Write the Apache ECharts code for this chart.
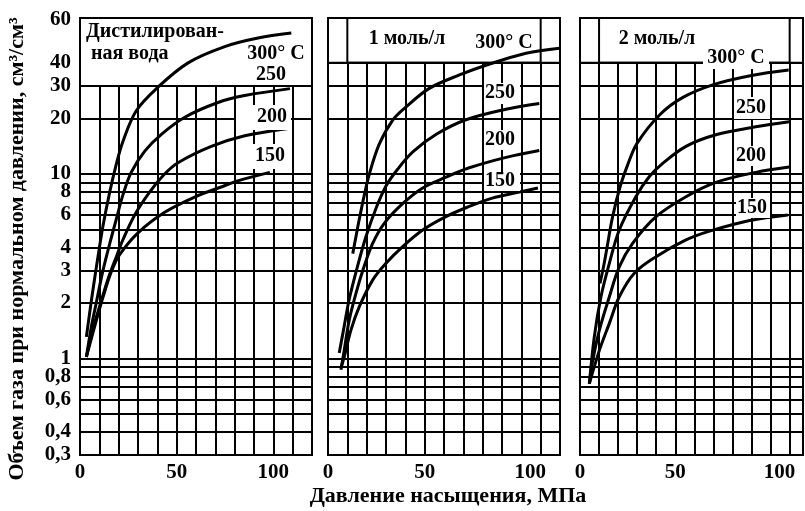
<!DOCTYPE html>
<html><head><meta charset="utf-8">
<script src="https://cdn.jsdelivr.net/npm/echarts@6/dist/echarts.min.js"></script>
<style>html,body{margin:0;padding:0;background:#fff}#c{width:805px;height:511px}</style>
</head><body><div id="c"></div>
<script>
// ---- tick labels / grid values ----
const yTickLabelValues = [0.3, 0.4, 0.6, 0.8, 1, 2, 3, 4, 6, 8, 10, 20, 30, 40, 60];
const yGridValues = [0.4, 0.5, 0.6, 0.7, 0.8, 0.9, 1, 2, 3, 4, 5, 6, 7, 8, 9, 10, 20, 30, 40];
const xTickLabelValues = [0, 50, 100];
const temps = ['300', '250', '200', '150'];
const panelTitles = [['Дистилирован-', 'ная вода'], ['1 моль/л'], ['2 моль/л']];
const yTitle = 'Объем газа при нормальном давлении, см³/см³';
const xTitle = 'Давление насыщения, МПа';

// ---- panel 1: distilled water [pressure MPa, gas volume] ----
const water300 = [[3.3,1.31],[6,2.1],[9,3.4],[12,5.3],[15.4,8.0],[18.5,11],[22.2,15],[29.1,22],[39.5,29],[55.9,40],[74.9,49],[92.1,54.5],[109.3,58]];
const water250 = [[3.3,1.02],[5.9,1.49],[8.4,2.0],[11.9,3.0],[15.4,4.2],[18.8,5.7],[22.2,7.7],[26.5,10.2],[33.5,13.3],[42.1,16.4],[54.2,20.3],[71.4,24.4],[85.2,26.6],[108.6,29]];
const water200 = [[3.3,1.02],[6.7,1.45],[11,2.05],[14.5,2.7],[18.8,3.56],[22.2,4.4],[28.3,6.0],[36.1,8.0],[43.4,9.9],[50.7,11.5],[67.9,14.1],[85.2,16.1],[108.5,17.7]];
const water150 = [[3.3,1.02],[8.4,1.6],[11.9,2.15],[16.2,2.95],[20.5,3.65],[30,4.8],[43.8,6.2],[59.3,7.5],[73,8.5],[82,9.2],[98.2,10.2]];

// ---- panel 2: 1 mol/l ----
const m1_300 = [[12.8,3.7],[14.5,4.6],[16.2,5.7],[18.8,7.7],[21.4,10.0],[26.5,14.5],[33.5,19.6],[40.4,23.1],[52.4,29.1],[68,34.4],[81.7,38.8],[102.4,45.1],[119.7,48]];
const m1_250 = [[5.8,1.07],[8.4,1.5],[11,2.1],[15.4,3.2],[19.7,4.6],[24.8,6.5],[30,8.6],[36,10.6],[44,13.2],[56,16.4],[71,19.6],[92,22.4],[109.3,24.1]];
const m1_200 = [[6.7,0.87],[8.4,1.11],[11,1.62],[14.5,2.26],[18,3.0],[23.1,4.2],[29.1,5.4],[38.6,6.9],[49,8.4],[61,9.6],[73.1,10.8],[92.1,12.3],[109.3,13.4]];
const m1_150 = [[6.7,0.89],[8.4,1.02],[11.9,1.43],[16.2,1.91],[23.1,2.66],[30,3.28],[38.6,4.04],[49,4.97],[61,5.87],[72,6.6],[85,7.4],[97,7.9],[108.6,8.4]];

// ---- panel 3: 2 mol/l ----
const m2_300 = [[10.5,2.55],[12.5,3.2],[14,3.9],[17,5.8],[21,8.5],[25,11.2],[30,14.7],[42,21],[54,26],[70,30.5],[90,34.2],[109.5,36.6]];
const m2_250 = [[4.9,0.73],[7.5,1.31],[11,2.16],[15.4,3.28],[20.6,4.97],[29.3,7.53],[36.3,9.66],[43.4,11.4],[55.6,14.1],[71.3,16.3],[92.2,18.0],[109.7,19.2]];
const m2_200 = [[4.9,0.73],[6.7,0.98],[10.2,1.43],[15.4,2.16],[20.6,3.14],[27.6,4.21],[39.9,5.87],[55.6,7.53],[71.3,9.0],[92.2,10.2],[109.7,10.9]];
const m2_150 = [[4.9,0.73],[10.2,1.11],[15.4,1.55],[20.6,2.16],[28.5,2.9],[39.9,3.56],[55.6,4.39],[68,4.9],[89,5.6],[109,6.0]];

const panelData = [
  {'300': water300, '250': water250, '200': water200, '150': water150},
  {'300': m1_300, '250': m1_250, '200': m1_200, '150': m1_150},
  {'300': m2_300, '250': m2_250, '200': m2_200, '150': m2_150}
];

// ---- layout ----
const FONT = '"Liberation Serif", "Times New Roman", serif';
const gridsLayout = [
  {left: 80, top: 18, width: 232, height: 437, xMax: 120},
  {left: 328, top: 18, width: 232, height: 437, xMax: 120},
  {left: 580, top: 18, width: 223, height: 437, xMax: 117}
];
const boxes = [
  [[{xAxis: 0, yAxis: 30}, {xAxis: 120, yAxis: 70}]],
  [[{xAxis: 0, yAxis: 40}, {xAxis: 120, yAxis: 70}],
   [{xAxis: 10, yAxis: 40, itemStyle: {color: 'rgba(0,0,0,0)'}}, {xAxis: 110, yAxis: 70}]],
  [[{xAxis: 0, yAxis: 40}, {xAxis: 117, yAxis: 70}],
   [{xAxis: 10, yAxis: 40, itemStyle: {color: 'rgba(0,0,0,0)'}}, {xAxis: 110, yAxis: 70}]]
];

const gridLine = {show: true, lineStyle: {color: '#000', width: 2}};
const grid = [], xAxis = [], yAxis = [], series = [];
gridsLayout.forEach((g, i) => {
  grid.push({left: g.left, top: g.top, width: g.width, height: g.height, show: true,
    borderColor: '#000', borderWidth: 2, backgroundColor: 'transparent'});
  xAxis.push({type: 'value', gridIndex: i, min: 0, max: g.xMax, interval: 10,
    axisLine: {show: false}, axisTick: {show: false}, splitLine: gridLine,
    axisLabel: {customValues: xTickLabelValues, color: '#000', fontFamily: FONT, fontWeight: 'bold',
      fontSize: 21, margin: 7,
      formatter: v => (i > 0 && v === 100) ? '{s|100}' : String(v),
      rich: {s: {padding: [0, 0, 0, 18], color: '#000', fontFamily: FONT, fontWeight: 'bold', fontSize: 21}}}});
  yAxis.push({type: 'log', logBase: 10, gridIndex: i, min: 0.3, max: 70,
    axisLine: {show: false}, axisTick: {show: false, customValues: yGridValues}, splitLine: gridLine,
    axisLabel: {show: i === 0, customValues: yTickLabelValues, color: '#000', fontFamily: FONT,
      fontWeight: 'bold', fontSize: 21, margin: 9,
      formatter: v => v === 60 ? '60\n ' : String(v).replace('.', ',')}});
  series.push({type: 'line', xAxisIndex: i, yAxisIndex: i, data: [], z: 2, silent: true,
    markArea: {silent: true, label: {show: false},
      itemStyle: {color: '#fff', borderColor: '#000', borderWidth: 2}, data: boxes[i]}});
  temps.forEach(t => series.push({type: 'line', name: t, xAxisIndex: i, yAxisIndex: i,
    data: panelData[i][t], smooth: 0.35, showSymbol: false, symbol: 'none', z: 4, silent: true,
    lineStyle: {color: '#000', width: 3}}));
});

// ---- annotation text ----
const graphic = [];
function txt(s, x, y, size, align) {
  graphic.push({type: 'text', x: x, y: y, z: 10, silent: true,
    style: {text: s, fill: '#000', font: 'bold ' + size + 'px ' + FONT,
      textAlign: align || 'center', textVerticalAlign: 'middle'}});
}
function wrect(x, y, w, h) {
  graphic.push({type: 'rect', z: 6, silent: true, shape: {x: x, y: y, width: w, height: h},
    style: {fill: '#fff'}});
}
// panel 1
txt(panelTitles[0][0], 86, 32, 20, 'left');
txt(panelTitles[0][1], 91, 54, 20, 'left');
txt('300° C', 276, 54, 20);
txt(temps[1], 271, 75, 20);
wrect(236, 105, 55, 25); txt(temps[2], 272, 117, 20);
wrect(236, 144, 55, 25); txt(temps[3], 270, 156, 20);
// panel 2
txt(panelTitles[1][0], 407, 39, 20);
txt('300° C', 504, 43, 20);
wrect(484, 83, 36, 21); txt(temps[1], 500, 93, 20);
wrect(484, 130, 36, 20); txt(temps[2], 500, 140, 20);
wrect(484, 172, 36, 19); txt(temps[3], 500, 181, 20);
// panel 3
txt(panelTitles[2][0], 657, 39, 20);
wrect(703, 47, 66, 22); txt('300° C', 736, 58, 20);
wrect(734, 97, 36, 22); txt(temps[1], 751, 108, 20);
wrect(734, 146, 36, 20); txt(temps[2], 751, 156, 20);
wrect(736, 198, 34, 20); txt(temps[3], 752, 208, 20);
// axis titles
graphic.push({type: 'text', x: 17, y: 249, rotation: Math.PI / 2, z: 10, silent: true,
  style: {text: yTitle, fill: '#000', font: 'bold 22px ' + FONT, textAlign: 'center', textVerticalAlign: 'middle'}});
txt(xTitle, 448, 496, 22);

const chart = echarts.init(document.getElementById('c'), null, {renderer: 'canvas'});
chart.setOption({animation: false, backgroundColor: '#fff', grid, xAxis, yAxis, series, graphic});
</script>
</body></html>
